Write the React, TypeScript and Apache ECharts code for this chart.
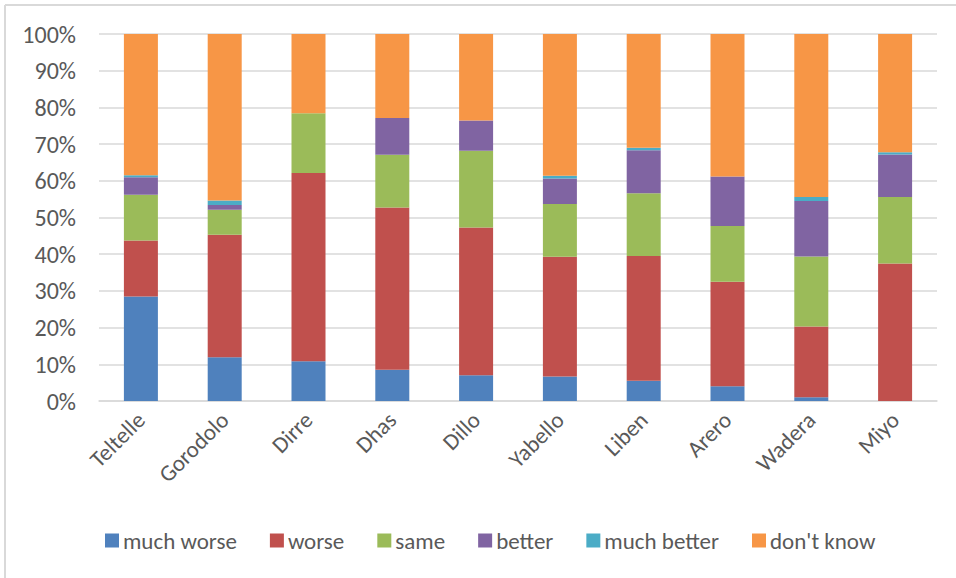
import React, { useEffect, useRef } from "react";
import * as echarts from "echarts";

const categories = ["Teltelle", "Gorodolo", "Dirre", "Dhas", "Dillo", "Yabello", "Liben", "Arero", "Wadera", "Miyo"];
const muchWorse = [28.5, 11.9, 10.8, 8.5, 7.0, 6.7, 5.5, 4.0, 1.0, 0];
const worse = [15.2, 33.4, 51.3, 44.2, 40.3, 32.6, 34.0, 28.5, 19.3, 37.5];
const same = [12.5, 6.8, 16.3, 14.4, 20.9, 14.4, 17.1, 15.2, 19.1, 18.1];
const better = [4.8, 1.3, 0, 10.0, 8.2, 6.9, 11.7, 13.5, 15.1, 11.6];
const muchBetter = [0.5, 1.2, 0, 0, 0, 0.8, 0.7, 0, 1.1, 0.6];
const dontKnow = [38.5, 45.4, 21.6, 22.9, 23.6, 38.6, 31.0, 38.8, 44.4, 32.2];

const seriesNames = ["much worse", "worse", "same", "better", "much better", "don't know"];
const seriesData = [muchWorse, worse, same, better, muchBetter, dontKnow];
const colors = ["#4F81BD", "#C0504D", "#9BBB59", "#8064A2", "#4BACC6", "#F79646"];

const FONT = "Carlito, Calibri, Lato, sans-serif";
const TEXT = "#595959";

export default function App() {
  const ref = useRef<HTMLDivElement>(null);
  useEffect(() => {
    if (!ref.current) return;
    const chart = echarts.init(ref.current, undefined, { renderer: "svg" });
    chart.setOption({
      animation: false,
      backgroundColor: "#ffffff",
      textStyle: { fontFamily: FONT },
      grid: { left: 99, right: 19, top: 34, bottom: 177, containLabel: false },
      graphic: [
        { type: "line", shape: { x1: 5, y1: 5, x2: 956, y2: 5 }, style: { stroke: "#d9d9d9", lineWidth: 2 } },
        { type: "line", shape: { x1: 5, y1: 5, x2: 5, y2: 578 }, style: { stroke: "#d9d9d9", lineWidth: 2 } },
      ],
      legend: {
        left: 100,
        top: 524,
        itemWidth: 14,
        itemHeight: 14,
        itemGap: 33,
        icon: "rect",
        textStyle: { color: TEXT, fontSize: 23, fontFamily: FONT, padding: [0, 0, 0, -1] },
        data: seriesNames,
      },
      xAxis: {
        type: "category",
        data: categories,
        axisLine: { lineStyle: { color: "#d9d9d9", width: 1.5 } },
        axisTick: { show: false },
        axisLabel: { rotate: 45, color: TEXT, fontSize: 23, fontFamily: FONT, margin: 15, interval: 0 },
      },
      yAxis: {
        type: "value",
        min: 0,
        max: 100,
        interval: 10,
        axisLine: { show: false },
        axisTick: { show: false },
        splitLine: { lineStyle: { color: "#d9d9d9", width: 1.5 } },
        axisLabel: { formatter: "{value}%", color: TEXT, fontSize: 24, fontFamily: FONT, margin: 23 },
      },
      series: seriesNames.map((name, i) => ({
        name,
        type: "bar",
        stack: "total",
        barWidth: 34,
        data: seriesData[i],
        itemStyle: { color: colors[i] },
      })),
    });
    return () => chart.dispose();
  }, []);
  return <div ref={ref} style={{ position: "fixed", left: 0, top: 0, width: 956, height: 578 }} />;
}
